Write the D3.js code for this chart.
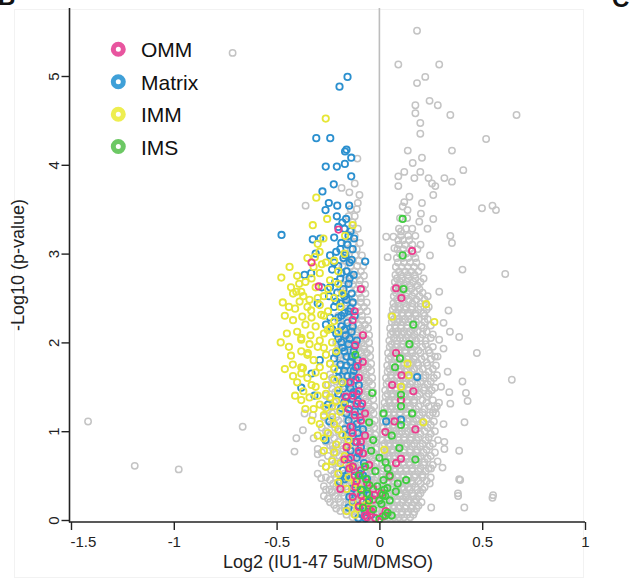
<!DOCTYPE html>
<html><head><meta charset="utf-8">
<script src="https://cdn.jsdelivr.net/npm/d3@7"></script>
<style>html,body{margin:0;padding:0;background:#fff;}svg{display:block;font-family:"Liberation Sans",Arial,sans-serif;}</style>
</head><body><svg id="c" width="634" height="579"></svg>
<script>
const xTicks = [-1.5, -1, -0.5, 0, 0.5, 1];
const yTicks = [0, 1, 2, 3, 4, 5];
const categories = ["OMM", "Matrix", "IMM", "IMS"];
const catColors = ["#ec3d8e", "#2b90cf", "#e6e636", "#3fcc3f"];
const legendColors = ["#e8559f", "#3fa0d8", "#eeee50", "#6cc864"];

// gray points, right branch: [y, [x...]]
const grayRightRows = [
 [0.03,[0.02,0.045,0.07,0.095,0.12,0.15]],
 [0.09,[0.03,0.055,0.08,0.11,0.14,0.17]],
 [0.16,[0.02,0.045,0.07,0.1,0.13,0.16,0.19]],
 [0.23,[0.035,0.06,0.085,0.115,0.145,0.18]],
 [0.30,[0.02,0.045,0.075,0.1,0.13,0.16,0.2]],
 [0.37,[0.03,0.055,0.085,0.11,0.14,0.175,0.22]],
 [0.44,[0.02,0.045,0.07,0.1,0.125,0.155,0.19,0.23]],
 [0.51,[0.035,0.06,0.09,0.115,0.145,0.175,0.21]],
 [0.58,[0.02,0.05,0.075,0.1,0.13,0.16,0.2,0.24]],
 [0.65,[0.03,0.06,0.085,0.115,0.145,0.18,0.22]],
 [0.72,[0.025,0.05,0.075,0.105,0.13,0.165,0.2,0.25]],
 [0.79,[0.035,0.06,0.09,0.12,0.15,0.185,0.23]],
 [0.86,[0.025,0.05,0.08,0.105,0.135,0.17,0.21,0.26]],
 [0.93,[0.04,0.065,0.09,0.12,0.155,0.19,0.24]],
 [1.00,[0.03,0.055,0.08,0.11,0.14,0.175,0.22,0.27]],
 [1.07,[0.04,0.065,0.095,0.125,0.16,0.2,0.25]],
 [1.14,[0.03,0.055,0.085,0.115,0.145,0.18,0.23]],
 [1.21,[0.045,0.07,0.1,0.13,0.165,0.21,0.26]],
 [1.28,[0.035,0.06,0.09,0.12,0.15,0.19,0.24,0.28]],
 [1.35,[0.045,0.075,0.105,0.135,0.17,0.21,0.26]],
 [1.42,[0.04,0.065,0.095,0.125,0.155,0.195,0.24]],
 [1.49,[0.05,0.08,0.11,0.14,0.175,0.22,0.27]],
 [1.56,[0.045,0.07,0.1,0.13,0.16,0.2,0.25]],
 [1.63,[0.055,0.085,0.115,0.145,0.18,0.225,0.28]],
 [1.70,[0.05,0.075,0.105,0.135,0.17,0.21,0.26]],
 [1.77,[0.06,0.09,0.12,0.15,0.185,0.23]],
 [1.84,[0.055,0.08,0.11,0.14,0.175,0.22,0.27]],
 [1.91,[0.065,0.095,0.125,0.155,0.19,0.24]],
 [1.98,[0.06,0.085,0.115,0.145,0.18,0.225]],
 [2.05,[0.07,0.1,0.13,0.16,0.2,0.25]],
 [2.12,[0.065,0.09,0.12,0.15,0.185,0.23]],
 [2.19,[0.075,0.105,0.135,0.165,0.205,0.25]],
 [2.26,[0.07,0.095,0.125,0.155,0.19,0.235]],
 [2.33,[0.08,0.11,0.14,0.175,0.215]],
 [2.40,[0.075,0.1,0.13,0.16,0.2,0.24]],
 [2.48,[0.085,0.115,0.145,0.18,0.22]],
 [2.56,[0.08,0.105,0.135,0.17,0.21]],
 [2.64,[0.09,0.12,0.15,0.185]],
 [2.72,[0.085,0.11,0.14,0.175,0.215]],
 [2.80,[0.095,0.125,0.155,0.19]],
 [2.90,[0.09,0.12,0.15,0.18]],
 [3.00,[0.1,0.13,0.165]],
 [3.10,[0.095,0.125,0.16,0.2]],
 [3.20,[0.105,0.14,0.175]]
];
const grayRightRows2 = [
 [0.06,[0.01,0.032,0.058,0.083,0.108,0.135,0.165]],
 [0.13,[0.015,0.04,0.067,0.092,0.125,0.155,0.18]],
 [0.20,[0.01,0.03,0.058,0.085,0.112,0.14,0.17,0.205]],
 [0.27,[0.012,0.048,0.072,0.1,0.13,0.165,0.19]],
 [0.34,[0.01,0.035,0.062,0.09,0.118,0.148,0.185,0.21]],
 [0.41,[0.015,0.04,0.068,0.097,0.128,0.162,0.2,0.245]],
 [0.48,[0.01,0.033,0.058,0.085,0.112,0.14,0.17,0.21,0.25]],
 [0.55,[0.015,0.047,0.075,0.103,0.13,0.16,0.19,0.225]],
 [0.62,[0.012,0.038,0.064,0.09,0.118,0.148,0.18,0.215,0.26]],
 [0.69,[0.015,0.042,0.07,0.098,0.13,0.16,0.19,0.235]],
 [0.76,[0.012,0.04,0.064,0.09,0.118,0.148,0.18,0.215,0.27]],
 [0.83,[0.015,0.047,0.072,0.1,0.125,0.158,0.198,0.245]],
 [0.90,[0.015,0.038,0.066,0.094,0.12,0.15,0.18,0.225,0.285]],
 [0.97,[0.018,0.045,0.07,0.097,0.127,0.16,0.2,0.25]],
 [1.04,[0.02,0.045,0.068,0.097,0.125,0.158,0.19,0.235]],
 [1.11,[0.018,0.05,0.078,0.108,0.135,0.165,0.21,0.265]],
 [1.18,[0.022,0.045,0.07,0.1,0.132,0.163,0.195,0.245]],
 [1.25,[0.025,0.055,0.083,0.112,0.145,0.178,0.22,0.27]],
 [1.32,[0.025,0.05,0.075,0.105,0.137,0.17,0.228,0.29]],
 [1.39,[0.03,0.06,0.088,0.118,0.15,0.185,0.23]],
 [1.46,[0.028,0.055,0.08,0.11,0.142,0.178,0.215,0.255]],
 [1.53,[0.035,0.062,0.092,0.12,0.15,0.185,0.235]],
 [1.60,[0.032,0.058,0.087,0.115,0.147,0.18,0.215,0.265]],
 [1.67,[0.04,0.068,0.097,0.125,0.158,0.195,0.24]],
 [1.74,[0.038,0.065,0.092,0.12,0.152,0.19,0.235,0.275]],
 [1.81,[0.045,0.075,0.103,0.135,0.168,0.205,0.25]],
 [1.88,[0.042,0.07,0.097,0.127,0.16,0.2,0.245]],
 [1.95,[0.05,0.078,0.108,0.137,0.17,0.208,0.26]],
 [2.02,[0.048,0.085,0.115,0.147,0.18,0.225]],
 [2.09,[0.055,0.082,0.108,0.138,0.17,0.21,0.26]],
 [2.16,[0.052,0.078,0.105,0.135,0.17,0.215]],
 [2.23,[0.06,0.088,0.112,0.142,0.178,0.22]],
 [2.30,[0.058,0.085,0.112,0.142,0.178,0.22]],
 [2.37,[0.065,0.092,0.122,0.155,0.19,0.23]],
 [2.44,[0.068,0.092,0.122,0.16,0.2]],
 [2.52,[0.07,0.1,0.128,0.16,0.195,0.235]],
 [2.60,[0.072,0.095,0.122,0.155,0.195]],
 [2.68,[0.075,0.1,0.132,0.165,0.2]],
 [2.76,[0.078,0.105,0.138,0.172]],
 [2.85,[0.08,0.108,0.138,0.168,0.205]],
 [2.95,[0.085,0.112,0.14,0.175]],
 [3.05,[0.088,0.115,0.148,0.185]],
 [3.15,[0.092,0.115,0.145]],
 [3.28,[0.095,0.13,0.16]],
 [3.40,[0.1,0.135]]
];

// gray points, left branch: [y, [x...]]
const grayLeftRows = [
 [0.03,[-0.02,-0.045,-0.07,-0.1,-0.13]],
 [0.10,[-0.03,-0.055,-0.08,-0.11,-0.15,-0.19]],
 [0.17,[-0.02,-0.045,-0.07,-0.1,-0.13,-0.17,-0.22]],
 [0.24,[-0.03,-0.055,-0.085,-0.115,-0.15,-0.2,-0.25]],
 [0.31,[-0.02,-0.045,-0.075,-0.1,-0.135,-0.18,-0.23]],
 [0.38,[-0.03,-0.06,-0.09,-0.12,-0.16,-0.21,-0.27]],
 [0.45,[-0.025,-0.05,-0.08,-0.11,-0.145,-0.19,-0.24]],
 [0.52,[-0.035,-0.065,-0.095,-0.13,-0.17,-0.22,-0.3]],
 [0.60,[-0.025,-0.05,-0.08,-0.115,-0.15,-0.2,-0.26]],
 [0.68,[-0.035,-0.065,-0.1,-0.135,-0.18,-0.23]],
 [0.76,[-0.03,-0.055,-0.085,-0.12,-0.16,-0.21,-0.28]],
 [0.84,[-0.04,-0.07,-0.1,-0.14,-0.185,-0.24]],
 [0.92,[-0.03,-0.06,-0.09,-0.125,-0.165,-0.22,-0.32]],
 [1.00,[-0.045,-0.075,-0.11,-0.15,-0.2,-0.26]],
 [1.08,[-0.035,-0.065,-0.1,-0.135,-0.18,-0.235]],
 [1.16,[-0.05,-0.08,-0.115,-0.155,-0.21,-0.27]],
 [1.24,[-0.04,-0.07,-0.105,-0.145,-0.19,-0.25]],
 [1.32,[-0.055,-0.085,-0.12,-0.165,-0.22]],
 [1.40,[-0.045,-0.075,-0.11,-0.15,-0.2,-0.26]],
 [1.48,[-0.06,-0.09,-0.13,-0.175,-0.23]],
 [1.56,[-0.05,-0.08,-0.115,-0.16,-0.21]],
 [1.64,[-0.065,-0.095,-0.135,-0.18,-0.24]],
 [1.72,[-0.055,-0.085,-0.12,-0.165,-0.22]],
 [1.80,[-0.07,-0.1,-0.14,-0.19]],
 [1.88,[-0.06,-0.09,-0.125,-0.17,-0.23]],
 [1.96,[-0.075,-0.105,-0.145,-0.2]],
 [2.04,[-0.065,-0.095,-0.13,-0.175]],
 [2.12,[-0.08,-0.11,-0.15,-0.2]],
 [2.20,[-0.07,-0.1,-0.135,-0.18]],
 [2.30,[-0.085,-0.115,-0.155,-0.2]],
 [2.40,[-0.075,-0.105,-0.14,-0.185]],
 [2.50,[-0.09,-0.12,-0.16]],
 [2.60,[-0.08,-0.11,-0.145,-0.19]],
 [2.70,[-0.095,-0.125,-0.165]],
 [2.80,[-0.09,-0.12,-0.155]],
 [2.92,[-0.1,-0.13,-0.17]],
 [3.05,[-0.11,-0.14]],
 [3.20,[-0.12,-0.15]],
 [3.35,[-0.13]],
 [3.50,[-0.14,-0.11]]
];
const grayLeftRows2 = [
 [0.06,[-0.01,-0.032,-0.058,-0.085,-0.115,-0.16]],
 [0.13,[-0.012,-0.04,-0.065,-0.095,-0.125,-0.17,-0.21]],
 [0.20,[-0.01,-0.032,-0.058,-0.085,-0.115,-0.15,-0.19,-0.24]],
 [0.27,[-0.012,-0.04,-0.068,-0.1,-0.13,-0.17,-0.215,-0.27]],
 [0.34,[-0.01,-0.033,-0.06,-0.088,-0.12,-0.155,-0.2,-0.26]],
 [0.41,[-0.015,-0.042,-0.07,-0.1,-0.135,-0.175,-0.225]],
 [0.48,[-0.012,-0.037,-0.065,-0.095,-0.128,-0.165,-0.21,-0.26]],
 [0.56,[-0.015,-0.04,-0.07,-0.1,-0.135,-0.18,-0.235]],
 [0.64,[-0.015,-0.04,-0.068,-0.098,-0.132,-0.17,-0.215,-0.28]],
 [0.72,[-0.018,-0.045,-0.075,-0.11,-0.15,-0.195,-0.25]],
 [0.80,[-0.018,-0.043,-0.07,-0.1,-0.138,-0.175,-0.225,-0.3]],
 [0.88,[-0.02,-0.05,-0.08,-0.115,-0.155,-0.2,-0.26]],
 [0.96,[-0.02,-0.048,-0.078,-0.108,-0.14,-0.185,-0.24]],
 [1.04,[-0.025,-0.055,-0.088,-0.12,-0.165,-0.215,-0.28]],
 [1.12,[-0.022,-0.05,-0.082,-0.118,-0.16,-0.2,-0.25]],
 [1.20,[-0.028,-0.058,-0.09,-0.128,-0.17,-0.23]],
 [1.28,[-0.025,-0.055,-0.088,-0.125,-0.168,-0.215,-0.27]],
 [1.36,[-0.03,-0.065,-0.1,-0.135,-0.18,-0.24]],
 [1.44,[-0.03,-0.06,-0.093,-0.13,-0.17,-0.215]],
 [1.52,[-0.035,-0.068,-0.1,-0.14,-0.19,-0.25]],
 [1.60,[-0.035,-0.065,-0.098,-0.135,-0.18,-0.23]],
 [1.68,[-0.04,-0.075,-0.11,-0.15,-0.2]],
 [1.76,[-0.04,-0.07,-0.103,-0.14,-0.185,-0.24]],
 [1.84,[-0.045,-0.08,-0.115,-0.155,-0.2]],
 [1.92,[-0.045,-0.075,-0.11,-0.15,-0.195]],
 [2.00,[-0.05,-0.085,-0.12,-0.16,-0.21]],
 [2.08,[-0.05,-0.08,-0.113,-0.15,-0.19]],
 [2.16,[-0.055,-0.09,-0.125,-0.165]],
 [2.25,[-0.055,-0.085,-0.12,-0.16,-0.2]],
 [2.35,[-0.06,-0.095,-0.13,-0.17]],
 [2.45,[-0.062,-0.09,-0.125,-0.165]],
 [2.55,[-0.068,-0.1,-0.135,-0.175]],
 [2.65,[-0.07,-0.098,-0.13,-0.17]],
 [2.75,[-0.075,-0.108,-0.14]],
 [2.86,[-0.078,-0.108,-0.14,-0.18]],
 [2.98,[-0.085,-0.118,-0.15]],
 [3.12,[-0.095,-0.128,-0.16]],
 [3.28,[-0.105,-0.14]],
 [3.42,[-0.12,-0.15]]
];

// scattered gray points [x, y]
const grayScatter = [
 [-1.417,1.11],[-1.19,0.61],[-0.976,0.57],[-0.665,1.05],[-0.714,5.26],
 [-0.359,3.54],[-0.107,4.07],[-0.12,3.79],[-0.184,3.74],[-0.097,3.66],[-0.146,3.69],[-0.105,3.57],
 [-0.364,1.2],[-0.413,0.77],[-0.404,0.92],[-0.372,1.01],[-0.324,1.18],[-0.283,0.47],[-0.3,0.74],
 [-0.243,0.34],[-0.227,0.84],[-0.231,0.32],[-0.186,0.34],
 [0.183,5.51],[0.092,5.13],[0.291,5.13],[0.223,4.99],[0.183,4.92],[0.244,4.72],[0.284,4.67],
 [0.175,4.67],[0.175,4.58],[0.345,4.56],[0.667,4.56],[0.199,4.47],[0.199,4.35],[0.519,4.29],
 [0.138,4.16],[0.353,4.16],[0.207,4.08],[0.408,3.94],[0.316,3.85],[0.353,3.81],[0.272,3.76],
 [0.262,3.66],[0.239,3.85],[0.256,3.79],[0.499,3.51],[0.55,3.54],[0.567,3.49],[0.092,3.87],
 [0.092,3.76],[0.121,3.92],[0.162,4.02],[0.17,3.85],[0.199,3.92],[0.146,3.64],[0.121,3.58],
 [0.207,3.57],[0.113,3.53],[0.137,3.49],[0.202,3.45],[0.262,3.39],[0.194,3.36],[0.033,3.19],
 [0.068,3.19],[0.345,3.2],[0.353,3.12],[0.234,3.28],[0.105,3.25],[0.073,3.06],[0.04,2.96],
 [0.246,2.98],[0.404,2.82],[0.612,2.77],[0.291,2.57],[0.336,2.36],[0.312,2.22],[0.343,2.12],
 [0.388,2.06],[0.291,2.03],[0.312,1.93],[0.474,1.88],[0.283,1.84],[0.332,1.67],[0.644,1.58],
 [0.404,1.56],[0.3,1.5],[0.34,1.44],[0.421,1.43],[0.429,1.34],[0.345,1.31],[0.275,1.2],
 [0.414,1.1],[0.312,1.08],[0.316,0.88],[0.316,0.8],[0.388,0.78],[0.283,0.66],[0.307,0.59],
 [0.251,0.58],[0.388,0.46],[0.382,0.3],[0.553,0.28],[0.252,0.14],[0.413,0.14],[0.383,0.27],
 [0.55,0.25],[0.393,0.45],[0.128,0.25]
];

const matrixPts = [
 [-0.155,4.99],[-0.194,4.88],[-0.307,4.3],[-0.239,4.3],[-0.167,4.15],[-0.16,4.17],[-0.137,4.08],
 [-0.261,3.98],[-0.207,3.98],[-0.168,4.01],[-0.137,3.87],[-0.222,3.78],[-0.277,3.7],[-0.246,3.57],
 [-0.205,3.54],[-0.147,3.54],[-0.262,3.49],[-0.207,3.42],[-0.162,3.39],[-0.476,3.21],[-0.324,3.16],
 [-0.288,3.17],[-0.123,3.17],[-0.364,2.76],[-0.332,2.78],[-0.3,2.44],[-0.38,1.49],[-0.316,1.4],
 [-0.262,0.9],[-0.243,1.11],[-0.178,0.56],[-0.194,0.43],[-0.146,0.26],[-0.162,0.49],[-0.102,0.02],
 [-0.068,0.02],[-0.131,0.21],[-0.069,2.91],[0.184,1.61],[0.105,1.13],[0.033,1.11],
 [-0.2,3.3],[-0.17,3.28],[-0.14,3.25],[-0.22,3.18],[-0.185,3.12],[-0.155,3.1],[-0.13,3.05],
 [-0.21,3.02],[-0.24,2.98],[-0.175,2.95],[-0.145,2.9],[-0.2,2.86],[-0.23,2.82],[-0.16,2.8],
 [-0.125,2.76],[-0.19,2.72],[-0.215,2.68],[-0.15,2.66],[-0.175,2.6],[-0.205,2.56],[-0.135,2.55],
 [-0.245,2.52],[-0.16,2.48],[-0.19,2.44],[-0.22,2.4],[-0.14,2.38],[-0.17,2.33],[-0.2,2.28],
 [-0.12,2.3],[-0.155,2.22],[-0.185,2.18],[-0.23,2.15],[-0.135,2.12],[-0.165,2.08],[-0.2,2.04],
 [-0.11,2.02],[-0.15,1.98],[-0.18,1.94],[-0.125,1.9],[-0.21,1.88],[-0.16,1.84],[-0.14,1.78],
 [-0.19,1.75],[-0.115,1.72],[-0.17,1.68],[-0.13,1.62],[-0.2,1.6],[-0.15,1.55],[-0.1,1.52],
 [-0.175,1.48],[-0.125,1.44],[-0.16,1.38],[-0.105,1.34],[-0.14,1.3],[-0.185,1.26],[-0.12,1.22],
 [-0.095,1.16],[-0.15,1.12],[-0.13,1.05],[-0.105,0.98],[-0.16,0.95],[-0.12,0.88],[-0.09,0.82],
 [-0.14,0.78],[-0.11,0.7],[-0.075,0.64],[-0.13,0.6],[-0.095,0.52],[-0.06,0.46],[-0.115,0.4],
 [-0.08,0.34],[-0.05,0.28],[-0.1,0.16],[-0.07,0.1],[-0.04,0.06],
 [-0.31,3.0],[-0.28,2.62],[-0.26,2.2],[-0.29,1.8],[-0.33,1.65],[-0.25,1.3],
 [-0.18,3.35],[-0.15,3.2],[-0.19,3.05],[-0.165,2.98],[-0.135,2.93],[-0.22,2.9],[-0.185,2.78],
 [-0.145,2.72],[-0.24,2.62],[-0.17,2.52],[-0.13,2.45],[-0.21,2.46],[-0.15,2.35],[-0.185,2.3],
 [-0.24,2.28],[-0.13,2.18],[-0.17,2.14],[-0.21,2.1],[-0.145,2.04],[-0.185,2.0],[-0.12,1.96],
 [-0.17,1.9],[-0.22,1.82],[-0.135,1.84],[-0.105,1.8],[-0.16,1.74],[-0.2,1.68],[-0.125,1.68],
 [-0.155,1.62],[-0.18,1.55],[-0.115,1.58],[-0.14,1.48],[-0.2,1.42],[-0.11,1.42],[-0.17,1.33],
 [-0.13,1.36],[-0.09,1.28],[-0.16,1.2],[-0.11,1.08],[-0.17,1.02],[-0.08,1.02],[-0.13,0.94],
 [-0.1,0.75],[-0.15,0.68],[-0.12,0.55],[-0.17,0.46],[-0.08,0.5],[-0.11,0.3],[-0.15,0.14],
 [-0.09,0.07],[-0.06,0.2],[-0.13,0.36]
];

const immPts = [
 [-0.261,4.52],[-0.307,3.63],[-0.254,3.39],[-0.324,3.32],[-0.13,3.32],[-0.272,3.17],[-0.167,3.2],
 [-0.3,3.11],[-0.291,3.02],[-0.314,2.96],[-0.437,2.85],[-0.477,2.73],[-0.404,2.57],[-0.38,2.57],
 [-0.388,2.46],[-0.332,2.36],[-0.375,2.29],[-0.283,2.31],[-0.38,2.03],[-0.421,1.75],[-0.38,1.65],
 [-0.372,1.71],[-0.348,1.88],[-0.335,2.08],[-0.251,2.14],[-0.154,0.83],[-0.107,0.13],[-0.054,0.14],
 [0.062,2.29],[0.227,2.43],[0.267,2.23],[0.137,1.76],[0.142,1.63],[0.214,1.1],[0.105,1.5],[0.024,0.79],
 [-0.35,2.95],[-0.32,2.85],[-0.26,2.9],[-0.4,2.75],[-0.29,2.78],[-0.36,2.68],[-0.24,2.7],
 [-0.31,2.62],[-0.42,2.55],[-0.27,2.52],[-0.34,2.48],[-0.22,2.5],[-0.29,2.42],[-0.41,2.38],
 [-0.25,2.35],[-0.36,2.2],[-0.31,2.18],[-0.22,2.24],[-0.4,2.12],[-0.27,2.1],[-0.34,1.98],
 [-0.23,2.0],[-0.3,1.95],[-0.38,1.9],[-0.26,1.86],[-0.21,1.9],[-0.32,1.8],[-0.29,1.72],
 [-0.24,1.76],[-0.35,1.6],[-0.4,1.55],[-0.27,1.62],[-0.22,1.58],[-0.31,1.5],[-0.2,1.46],
 [-0.26,1.42],[-0.34,1.38],[-0.29,1.3],[-0.23,1.28],[-0.19,1.22],[-0.27,1.18],[-0.33,1.12],
 [-0.22,1.08],[-0.25,0.98],[-0.3,0.95],[-0.18,0.96],[-0.21,0.85],[-0.27,0.78],[-0.17,0.72],
 [-0.23,0.66],[-0.14,0.6],[-0.2,0.52],[-0.12,0.42],[-0.16,0.35],[-0.09,0.28],[-0.13,0.2],
 [-0.06,0.18],[-0.18,2.55],[-0.2,2.8],[-0.17,3.0],[-0.45,2.1],[-0.44,1.95],[-0.37,1.45],[-0.36,1.25],
 [-0.43,2.62],[-0.39,2.66],[-0.33,2.72],[-0.28,2.88],[-0.22,2.92],[-0.37,2.52],[-0.3,2.5],
 [-0.25,2.6],[-0.2,2.66],[-0.44,2.4],[-0.35,2.4],[-0.27,2.3],[-0.19,2.4],[-0.42,2.25],
 [-0.33,2.28],[-0.24,2.16],[-0.38,2.05],[-0.29,2.02],[-0.2,2.12],[-0.43,1.85],[-0.35,1.86],
 [-0.27,1.94],[-0.22,1.7],[-0.31,1.66],[-0.38,1.72],[-0.26,1.52],[-0.33,1.52],[-0.42,1.62],
 [-0.18,1.55],[-0.24,1.38],[-0.3,1.4],[-0.38,1.35],[-0.21,1.34],[-0.26,1.26],[-0.32,1.25],
 [-0.17,1.3],[-0.23,1.16],[-0.29,1.08],[-0.2,1.02],[-0.27,0.92],[-0.15,0.9],[-0.22,0.76],
 [-0.19,0.64],[-0.26,0.6],[-0.15,0.48],[-0.1,0.36],[-0.2,0.42],[-0.08,0.22],[-0.16,0.1],
 [-0.12,0.06],[-0.47,2.45],[-0.46,2.3],[-0.48,2.0],[-0.41,1.4],[-0.46,1.7]
];

const ommPts = [
 [-0.199,3.27],[-0.33,2.9],[-0.295,2.63],[-0.13,2.25],[-0.117,1.97],[-0.081,1.78],[-0.105,1.73],
 [-0.165,1.39],[-0.11,1.31],[-0.084,1.31],[-0.17,0.68],[-0.13,0.6],[-0.117,0.37],[-0.024,0.28],
 [-0.089,0.28],[-0.146,0.58],[-0.029,0.23],[0.016,0.04],
 [0.159,3.03],[0.081,2.61],[0.107,2.5],[0.081,1.88],[0.107,1.63],[0.062,1.52],[0.105,1.35],
 [0.165,1.45],[0.175,1.02],[0.029,0.99],[0.073,1.11],[0.105,0.69],[0.049,0.49],[0.081,0.64],
 [-0.15,1.25],[-0.12,1.18],[-0.09,1.12],[-0.14,1.05],[-0.07,0.95],[-0.11,0.88],[-0.16,0.82],
 [-0.08,0.75],[-0.12,0.5],[-0.06,0.42],[-0.1,0.15],[-0.04,0.1],[-0.07,0.05],[-0.02,0.02],
 [-0.19,0.35],[-0.14,1.55],[-0.1,1.6],[-0.08,2.08],
 [-0.13,1.4],[-0.1,1.45],[-0.07,1.2],[-0.13,0.98],[-0.1,0.78],[-0.14,0.7],[-0.05,0.62],
 [-0.09,0.56],[-0.11,0.44],[-0.03,0.35],[-0.08,0.2],[-0.13,0.26],[-0.05,0.12],[0.03,0.1],
 [0.01,0.3],[-0.06,0.03],[-0.09,0.88],[-0.12,2.35],[-0.09,2.6]
];

const imsPts = [
 [0.113,3.39],[0.113,2.98],[0.117,2.6],[0.165,2.2],[0.146,1.98],[0.1,1.82],[0.076,1.72],
 [0.105,1.41],[0.105,1.28],[0.159,1.2],[0.105,1.07],[0.097,0.81],[0.175,0.68],[0.04,0.58],
 [0.13,0.45],[0.089,0.41],[-0.117,1.86],[-0.035,1.43],[-0.065,0.46],[-0.049,0.39],[-0.089,0.34],
 [0.024,0.34],[0.016,0.28],[0.029,0.27],[0.039,0.36],[0.0,0.01],
 [-0.03,0.12],[0.01,0.18],[0.04,0.08],[-0.05,0.22],[0.02,0.45],[-0.02,0.55],[0.05,0.22],
 [-0.07,0.6],[0.03,0.65],[-0.04,0.78],[-0.1,0.5],[0.06,0.95],
 [-0.08,0.14],[0.0,0.22],[0.03,0.05],[-0.01,0.38],[-0.06,0.3],[0.05,0.5],[0.0,0.7],
 [-0.03,0.9],[0.08,0.32],[0.06,0.05],[-0.05,1.1],[0.02,1.2]
];

const svg = d3.select("#c");
const x = d3.scaleLinear().domain([-1.5, 1]).range([71, 585]);
const y = d3.scaleLinear().domain([0, 5]).range([520, 76]);

// faint panel frame
svg.append("rect").attr("x",14.5).attr("y",9.5).attr("width",569).attr("height",568)
  .attr("fill","none").attr("stroke","#f2f2f2").attr("stroke-width",1);

// panel letters (clipped at top edge, as in the source figure)
svg.append("text").attr("x",-2).attr("y",5).attr("font-size",24).attr("font-weight","bold").attr("fill","#111").text("B");
svg.append("text").attr("x",612).attr("y",7).attr("font-size",24).attr("font-weight","bold").attr("fill","#111").text("C");

// zero line
svg.append("line").attr("x1",x(0)).attr("x2",x(0)).attr("y1",8).attr("y2",520)
  .attr("stroke","#bdbdbd").attr("stroke-width",1.6);

const rowsToPts = rows => rows.flatMap(([yy, xs]) => xs.map(v => [v, yy]));
const gray = [
  ...rowsToPts(grayRightRows), ...rowsToPts(grayRightRows2),
  ...rowsToPts(grayLeftRows), ...rowsToPts(grayLeftRows2),
  ...grayScatter
];
const ring = 3.2;
svg.append("g").selectAll("circle").data(gray).join("circle")
  .attr("cx", d => x(d[0])).attr("cy", d => y(d[1])).attr("r", ring)
  .attr("fill","none").attr("stroke","#c4c4c4").attr("stroke-width",1.5);

const layers = [[matrixPts,1],[immPts,2],[ommPts,0],[imsPts,3]];
layers.forEach(([pts, ci]) => {
  svg.append("g").selectAll("circle").data(pts).join("circle")
    .attr("cx", d => x(d[0])).attr("cy", d => y(d[1])).attr("r", ring)
    .attr("fill","none").attr("stroke", catColors[ci]).attr("stroke-width",1.8);
});

// axes
const axisColor = "#222";
const xa = svg.append("g").attr("transform","translate(0,522)")
  .call(d3.axisBottom(x).tickValues(xTicks).tickSize(8).tickSizeOuter(0).tickFormat(d => String(d)));
xa.select(".domain").remove();
xa.selectAll(".tick line").attr("stroke",axisColor).attr("stroke-width",1.4);
xa.selectAll(".tick text").attr("font-size",15).attr("fill","#222").attr("dy","0.9em")
  .attr("font-family","'Liberation Sans',Arial,sans-serif");
xa.selectAll(".tick text").filter(d => d === -1.5).attr("text-anchor","start").attr("dx","-1");

const ya = svg.append("g").attr("transform","translate(69.5,0)")
  .call(d3.axisLeft(y).tickValues(yTicks).tickSize(8).tickSizeOuter(0).tickFormat(d => String(d)));
ya.select(".domain").remove();
ya.selectAll(".tick line").attr("stroke",axisColor).attr("stroke-width",1.4);
ya.selectAll(".tick text").attr("font-size",15).attr("fill","#222")
  .attr("font-family","'Liberation Sans',Arial,sans-serif")
  .attr("x",null).attr("dy",null).attr("text-anchor","middle")
  .attr("transform","translate(-11,0) rotate(-90)");

svg.append("line").attr("x1",69.5).attr("x2",69.5).attr("y1",8).attr("y2",522.5)
  .attr("stroke",axisColor).attr("stroke-width",1.6);
svg.append("line").attr("x1",69).attr("x2",585).attr("y1",522).attr("y2",522)
  .attr("stroke",axisColor).attr("stroke-width",1.6);

// axis titles
svg.append("text").attr("x",328).attr("y",568).attr("text-anchor","middle")
  .attr("font-size",18).attr("fill","#222").text("Log2 (IU1-47 5uM/DMSO)");
svg.append("text").attr("transform","translate(24,265) rotate(-90)").attr("text-anchor","middle")
  .attr("font-size",18).attr("fill","#222").text("-Log10 (p-value)");

// legend
const lg = svg.append("g");
const legendY = [49.3, 81.7, 114.3, 146.5];
categories.forEach((c, i) => {
  lg.append("circle").attr("cx",118.3).attr("cy",legendY[i]).attr("r",5)
    .attr("fill","none").attr("stroke",legendColors[i]).attr("stroke-width",5);
  lg.append("text").attr("x",141).attr("y",legendY[i] + 8).attr("font-size",21)
    .attr("fill","#111").text(c);
});
</script></body></html>
